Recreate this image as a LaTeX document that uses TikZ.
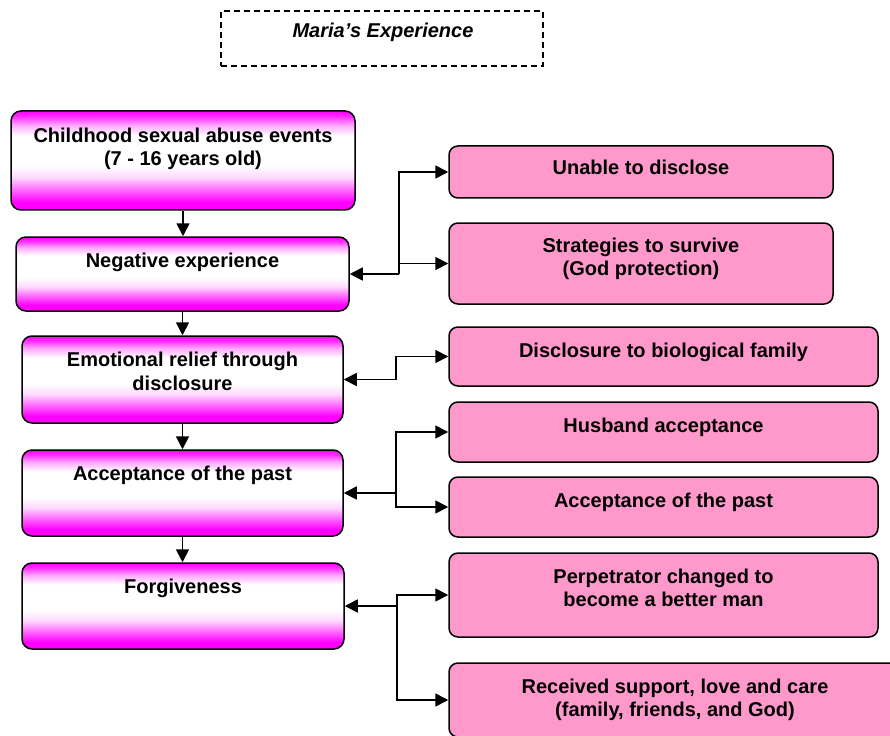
\documentclass[tikz,border=0pt]{standalone}
\usepackage{fontspec}
\setmainfont{Liberation Sans}
\usetikzlibrary{arrows.meta}

\definecolor{boxpink}{RGB}{255,153,204}
% magenta at both edges, white across the upper middle
\pgfdeclareverticalshading{stageshade}{100bp}{%
  color(0bp)=(magenta); color(25bp)=(magenta); color(29bp)=(magenta);
  color(35bp)=(magenta!60!white); color(41.5bp)=(magenta!15!white);
  color(47.5bp)=(white); color(62.5bp)=(white);
  color(68bp)=(magenta!35!white); color(72bp)=(magenta!80!white);
  color(75bp)=(magenta); color(100bp)=(magenta)}

\tikzset{
  stagebox/.style={draw=black, line width=1.5pt, rounded corners=10pt,
    shading=stageshade, inner sep=0pt},
  itembox/.style={draw=black, line width=1.5pt, rounded corners=9pt,
    fill=boxpink, inner sep=0pt},
  titlebox/.style={draw=black, line width=1.2pt, dash pattern=on 6pt off 4pt,
    inner sep=0pt},
  txt/.style={font=\fontsize{20}{23.5}\selectfont\bfseries, inner sep=0pt,
    align=center},
  arr/.style={line width=1.7pt, -{Triangle[length=13pt,width=13pt]}}
}

\begin{document}
\begin{tikzpicture}[x=1pt,y=-1pt]
\useasboundingbox (0,0) rectangle (890,735);
\clip (0,0) rectangle (890,735);

% title
\node[titlebox, minimum width=322pt, minimum height=55pt] (title) at (382,38.5) {};
\node[txt, anchor=base, font=\fontsize{20}{23.5}\selectfont\bfseries\itshape]
  (titlet) at (383,37.5) {Maria’s Experience};

% stages (left column)
\node[stagebox, minimum width=344pt, minimum height=99pt] (b1) at (183,160.5) {};
\node[stagebox, minimum width=333pt, minimum height=74pt] (b2) at (182.5,274) {};
\node[stagebox, minimum width=321pt, minimum height=87pt] (b3) at (182.5,379.5) {};
\node[stagebox, minimum width=321pt, minimum height=86pt] (b4) at (182.5,493) {};
\node[stagebox, minimum width=322pt, minimum height=86pt] (b5) at (183,606) {};

\node[txt, anchor=north] (b1t) at (183,126) {\rule{0pt}{16pt}Childhood sexual abuse events\\(7 - 16 years old)};
\node[txt, anchor=base] (b2t) at (182.5,267) {Negative experience};
\node[txt, anchor=north] (b3t) at (182.5,350.5) {\rule{0pt}{16pt}Emotional relief through\\disclosure};
\node[txt, anchor=base] (b4t) at (182.5,480) {Acceptance of the past};
\node[txt, anchor=base] (b5t) at (183,593) {Forgiveness};

% details (right column)
\node[itembox, minimum width=384pt, minimum height=52pt] (r1) at (641,172) {};
\node[itembox, minimum width=384pt, minimum height=81pt] (r2) at (641,263.5) {};
\node[itembox, minimum width=429pt, minimum height=59pt] (r3) at (663.5,356.5) {};
\node[itembox, minimum width=429pt, minimum height=60pt] (r4) at (663.5,432) {};
\node[itembox, minimum width=429pt, minimum height=60pt] (r5) at (663.5,507) {};
\node[itembox, minimum width=429pt, minimum height=84pt] (r6) at (663.5,595) {};
\node[itembox, minimum width=452pt, minimum height=74pt] (r7) at (675,700) {};

\node[txt, anchor=base] (r1t) at (641,175) {Unable to disclose};
\node[txt, anchor=north] (r2t) at (641,236) {\rule{0pt}{16pt}Strategies to survive\\(God protection)};
\node[txt, anchor=base] (r3t) at (663.5,357) {Disclosure to biological family};
\node[txt, anchor=base] (r4t) at (663.5,432) {Husband acceptance};
\node[txt, anchor=base] (r5t) at (663.5,507) {Acceptance of the past};
\node[txt, anchor=north] (r6t) at (663.5,567) {\rule{0pt}{16pt}Perpetrator changed to\\become a better man};
\node[txt, anchor=north] (r7t) at (675,677) {\rule{0pt}{16pt}Received support, love and care\\(family, friends, and God)};

% vertical flow between stages
\draw[arr] (b1.south) -- (b1.south |- b2.north);
\draw[arr] (b2.south) -- (b2.south |- b3.north);
\draw[arr] (b3.south) -- (b3.south |- b4.north);
\draw[arr] (b4.south) -- (b4.south |- b5.north);

% branches to the details
\coordinate (j2) at (399,274);
\coordinate (j3) at (396,379.5);
\coordinate (j4) at (396,493);
\coordinate (j5) at (397,606);

\draw[arr] (j2) -- (b2.east);
\draw[arr] (j2) |- (r1.west);
\draw[arr] (j2) |- (r2.west);

\draw[arr] (j3) -- (b3.east);
\draw[arr] (j3) |- (r3.west);

\draw[arr] (j4) -- (b4.east);
\draw[arr] (j4) |- (r4.west);
\draw[arr] (j4) |- (r5.west);

\draw[arr] (j5) -- (b5.east);
\draw[arr] (j5) |- (r6.west);
\draw[arr] (j5) |- (r7.west);
\end{tikzpicture}
\end{document}
